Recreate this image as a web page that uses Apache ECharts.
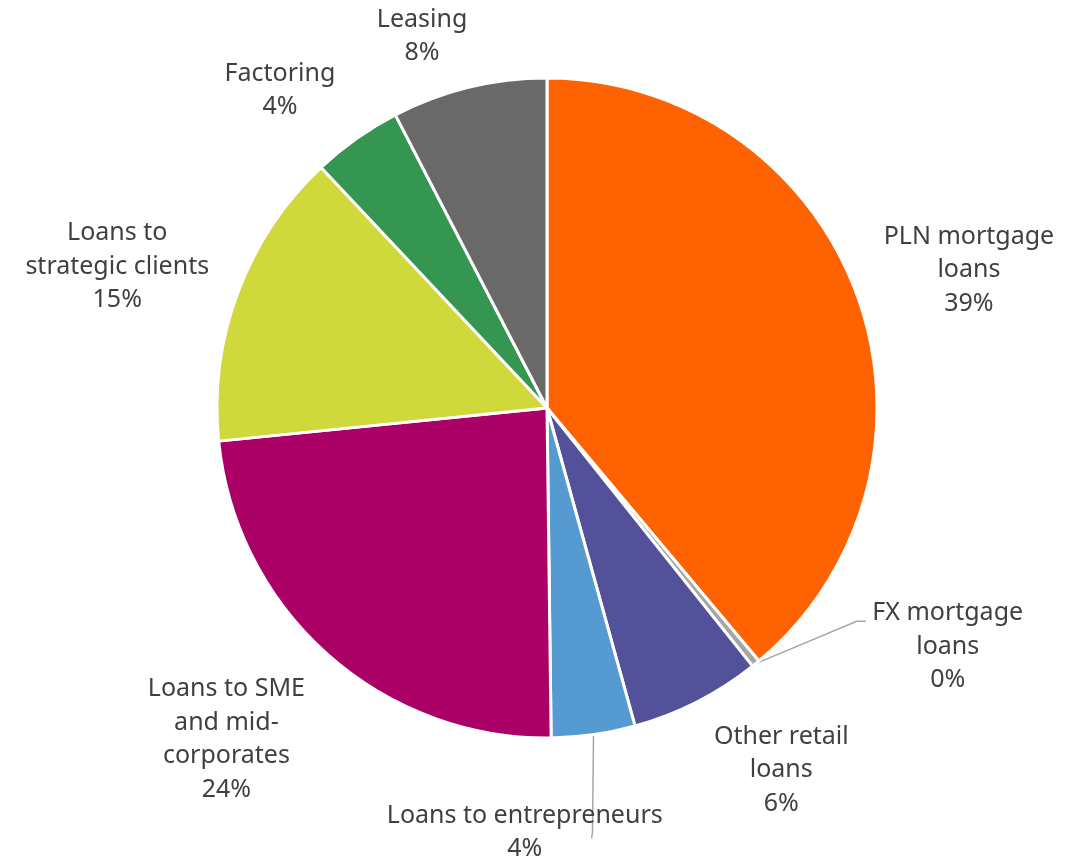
<!DOCTYPE html>
<html>
<head>
<meta charset="utf-8">
<script src="https://cdn.jsdelivr.net/npm/echarts@6/dist/echarts.min.js"></script>
<style>
  html, body { margin: 0; padding: 0; background: #ffffff; }
  #chart { width: 1084px; height: 861px; }
</style>
</head>
<body>
<div id="chart"></div>
<script>
// Loan portfolio structure (share of total, %)
const categories = [
  'PLN mortgage\nloans',
  'FX mortgage\nloans',
  'Other retail\nloans',
  'Loans to entrepreneurs',
  'Loans to SME\nand mid-\ncorporates',
  'Loans to\nstrategic clients',
  'Factoring',
  'Leasing'
];
const shares = [38.9, 0.4, 6.4, 4.1, 23.6, 14.6, 4.4, 7.6];
const colors = ['#FF6200', '#A6A6A6', '#525199', '#559BD1', '#AB0066', '#D0D93C', '#349651', '#696969'];

// Label placement per slice: [angle shift from slice middle (deg), distance in radii]
const labelSpots = [
  [1.9, 1.345], [-20, 1.413], [-5.9, 1.307], [11.1, 1.288],
  [2.3, 1.397], [-2.3, 1.371], [-4.8, 1.257], [-4.9, 1.188]
];
const withLeader = [false, true, false, true, false, false, false, false];

const CX = 547, CY = 408, R = 330;
const total = shares.reduce((a, b) => a + b, 0);
const midAngles = [];
let acc = 0;
shares.forEach(v => { midAngles.push((acc + v / 2) / total * 2 * Math.PI); acc += v; });
function polar(theta, r) { return [CX + r * Math.sin(theta), CY - r * Math.cos(theta)]; }

const chart = echarts.init(document.getElementById('chart'), null, { renderer: 'canvas' });

chart.setOption({
  backgroundColor: '#ffffff',
  animation: false,
  series: [{
    type: 'pie',
    center: [CX, CY],
    radius: [0, R],
    startAngle: 90,
    clockwise: true,
    percentPrecision: 0,
    itemStyle: { borderColor: '#ffffff', borderWidth: 3 },
    label: {
      show: true,
      position: 'outside',
      formatter: '{b}\n{d}%',
      color: '#404040',
      fontFamily: 'Noto Sans',
      fontSize: 25,
      lineHeight: 33.5,
      width: 400,
      overflow: 'none',
      align: 'center'
    },
    labelLine: { show: false, lineStyle: { color: '#A6A6A6', width: 1.5 } },
    emphasis: { disabled: true },
    labelLayout: function (p) {
      const i = p.dataIndex;
      const s = labelSpots[i];
      const th = midAngles[i] + s[0] * Math.PI / 180;
      const pos = polar(th, R * s[1]);
      const out = { x: pos[0], y: pos[1], align: 'center', verticalAlign: 'middle' };
      if (withLeader[i]) {
        const edge = polar(midAngles[i], R);
        const h = p.labelRect.height;
        if (pos[0] > edge[0] + 100) {
          // leader runs to the left side of the first text line
          const end = [pos[0] - 82, pos[1] - h / 2 + 25];
          out.labelLinePoints = [edge, [end[0] - 9, end[1]], end];
        } else {
          out.labelLinePoints = [edge, [edge[0] - 1, pos[1]], [edge[0] - 2, pos[1] + 6]];
        }
      }
      return out;
    },
    data: categories.map((name, i) => ({
      name: name,
      value: shares[i],
      itemStyle: { color: colors[i] },
      labelLine: { show: withLeader[i] }
    }))
  }]
});
</script>
</body>
</html>
